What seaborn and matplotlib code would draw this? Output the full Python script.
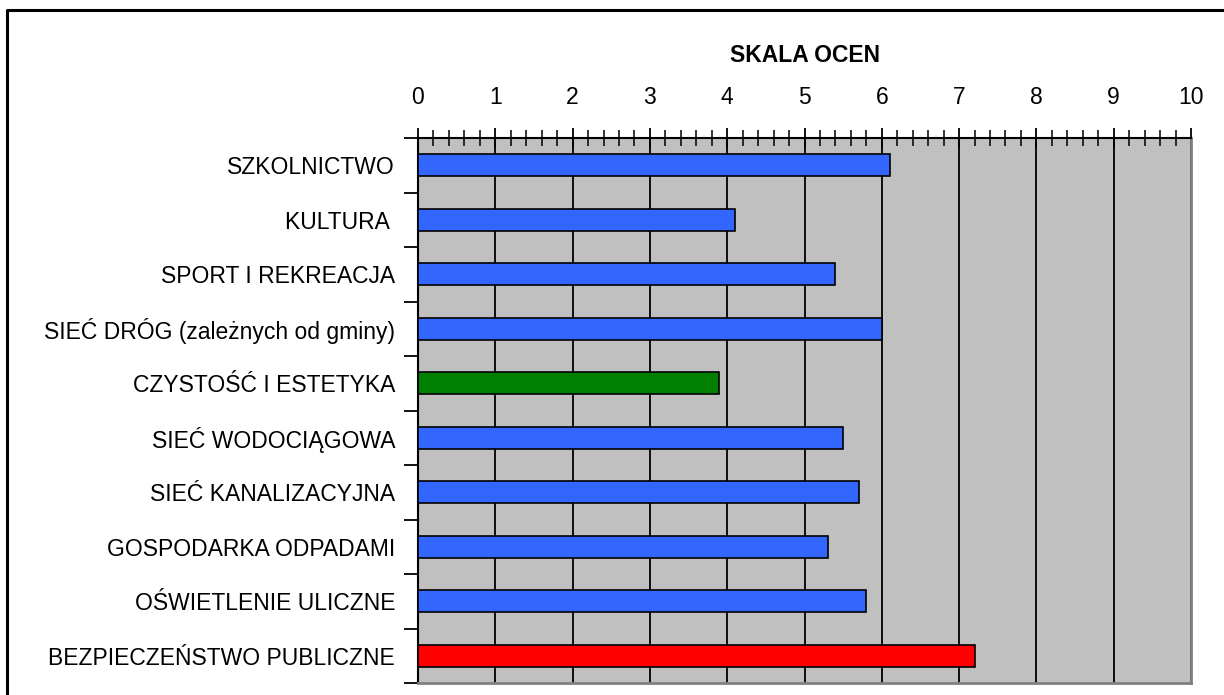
import matplotlib
matplotlib.use("Agg")
import matplotlib.pyplot as plt
from matplotlib.lines import Line2D
from matplotlib.ticker import MultipleLocator, FixedLocator, NullFormatter
import seaborn as sns
import pandas as pd

categories = [
    "SZKOLNICTWO",
    "KULTURA ",
    "SPORT I REKREACJA",
    "SIEĆ DRÓG (zależnych od gminy)",
    "CZYSTOŚĆ I ESTETYKA",
    "SIEĆ WODOCIĄGOWA",
    "SIEĆ KANALIZACYJNA",
    "GOSPODARKA ODPADAMI",
    "OŚWIETLENIE ULICZNE",
    "BEZPIECZEŃSTWO PUBLICZNE",
]
scores = [6.1, 4.1, 5.4, 6.0, 3.9, 5.5, 5.7, 5.3, 5.8, 7.2]
bar_colors = ["#3366FF", "#3366FF", "#3366FF", "#3366FF", "#008000",
              "#3366FF", "#3366FF", "#3366FF", "#3366FF", "#FF0000"]
x_ticks = list(range(0, 11))
title = "SKALA OCEN"

sns.set_theme(style="white")
plt.rcParams["font.family"] = ["Liberation Sans", "DejaVu Sans"]
plt.rcParams["text.color"] = "black"
plt.rcParams["xtick.labelcolor"] = "black"
plt.rcParams["ytick.labelcolor"] = "black"

FS = 16.5
W, H = 1224, 695
fig = plt.figure(figsize=(W / 100, H / 100), dpi=100)
ax = fig.add_axes([418 / W, 1 - 683 / H, (1191 - 418) / W, (683 - 138) / H])
ax.set_facecolor("#C0C0C0")

df = pd.DataFrame({"kategoria": categories, "ocena": scores})
sns.barplot(data=df, y="kategoria", x="ocena", hue="kategoria",
            palette=bar_colors, legend=False, orient="h", width=0.4,
            edgecolor="black", linewidth=1.2, saturation=1, ax=ax, zorder=3)

ax.set_xlim(0, 10)
ax.set_ylim(len(categories) - 0.5, -0.5)

# vertical grid at each whole score
ax.xaxis.set_major_locator(FixedLocator(x_ticks))
ax.xaxis.set_minor_locator(MultipleLocator(0.2))
ax.grid(axis="x", which="major", color="black", linewidth=1.3, zorder=1)
ax.grid(axis="y", visible=False)
ax.set_axisbelow(True)

ax.xaxis.set_ticks_position("top")
ax.xaxis.set_label_position("top")
ax.set_xticklabels([str(t) for t in x_ticks], fontsize=FS, color="black")
ax.tick_params(axis="x", which="major", direction="inout", length=14, width=1.3,
               color="black", pad=14, top=True, bottom=False)
ax.tick_params(axis="x", which="minor", direction="inout", length=12, width=1.1,
               color="black", top=True, bottom=False)

# category labels centred, ticks on category boundaries
ax.yaxis.set_major_locator(FixedLocator(range(len(categories))))
ax.set_yticklabels(categories, fontsize=FS, color="black")
ax.yaxis.set_minor_locator(FixedLocator([i - 0.5 for i in range(len(categories) + 1)]))
ax.yaxis.set_minor_formatter(NullFormatter())
ax.tick_params(axis="y", which="major", length=0, pad=16.5)
ax.tick_params(axis="y", which="minor", direction="out", length=10, width=1.3,
               color="black", left=True)

ax.set_xlabel("")
ax.set_ylabel("")

for side in ["top", "left"]:
    ax.spines[side].set_color("black")
    ax.spines[side].set_linewidth(1.5)
for side in ["right", "bottom"]:
    ax.spines[side].set_color("#808080")
    ax.spines[side].set_linewidth(2)
for s in ax.spines.values():
    s.set_visible(True)

fig.text((418 + 1191) / 2 / W, 1 - 55 / H, title, ha="center", va="center",
         fontsize=FS, fontweight="bold", color="black")

# outer frame along the left and top edges
fig.add_artist(Line2D([7 / W, 7 / W, 1.0], [0.0, 1 - 10 / H, 1 - 10 / H],
                      transform=fig.transFigure, color="black", linewidth=2.2))

fig.savefig("out.png", dpi=100)
